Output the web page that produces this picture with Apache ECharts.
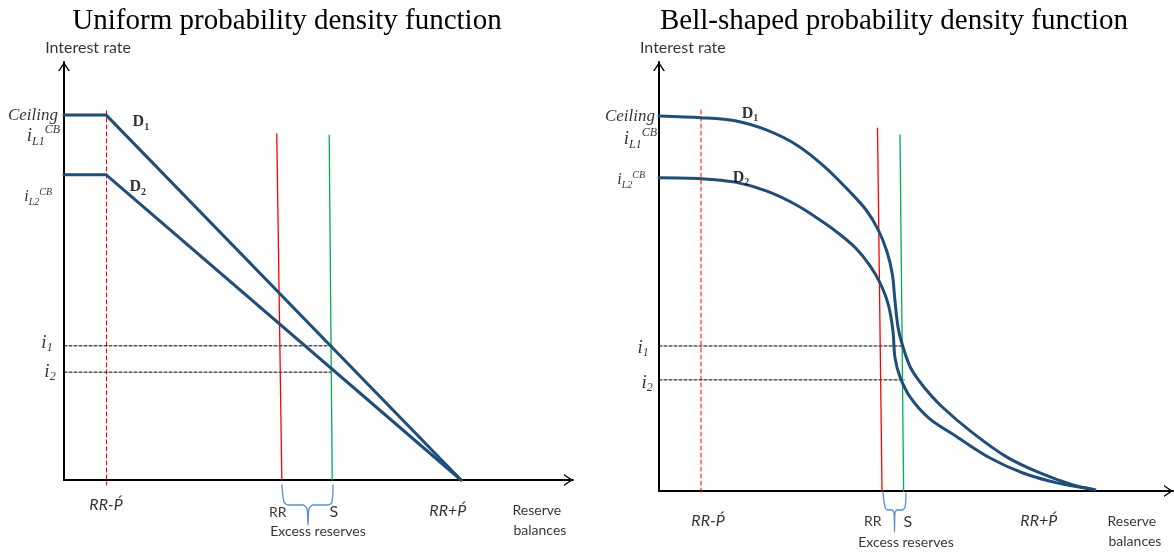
<!DOCTYPE html>
<html><head><meta charset="utf-8">
<script src="https://cdn.jsdelivr.net/npm/echarts@6/dist/echarts.min.js"></script>
<style>html,body{margin:0;padding:0;background:#fff}#c{width:1174px;height:554px}</style>
</head><body><div id="c"></div>
<script>
// ---------- DATA (axis units: reserve balances 0-100, interest rate 0-100) ----------
const titles = ['Uniform probability density function', 'Bell-shaped probability density function'];

// Uniform panel
const uniD1 = [[0, 87.3], [8.3, 87.3], [78, 0]];
const uniD2 = [[0, 73.0], [8.3, 73.0], [78, 0]];
const uniRR = [[41.8, 82.8], [42.8, 0]];
const uniS = [[52.1, 82.5], [52.7, 0]];
const uniFloorMark = [[8.35, 88.3], [8.35, -1.2]];
const uniI1 = [[0, 32.1], [52.8, 32.1]];
const uniI2 = [[0, 25.8], [52.5, 25.8]];
const uniBrace = [[42.83, -1.2], [43.22, -5.26], [44.01, -5.98], [46.95, -5.98], [47.74, -6.94], [47.94, -10.77],
  [48.13, -6.94], [48.92, -5.98], [51.87, -5.98], [52.65, -5.26], [52.85, -1.2]];

// Bell-shaped panel
const bellD1 = [[0, 87.4], [8.2, 87.0], [14.8, 86.3], [21.0, 84.1], [27.0, 80.5], [32.3, 75.5], [37.16, 69.7],
  [40.3, 65.5], [42.6, 61.0], [44.3, 56.0], [45.4, 50.5], [45.9, 44.5], [46.5, 38.2], [47.47, 33.6], [49.0, 28.6],
  [51.5, 24.3], [55.0, 19.7], [61.09, 13.5], [67.7, 7.9], [74.12, 4.2], [80.54, 1.4], [84.82, 0.3]];
const bellD2 = [[0, 73.0], [8.2, 72.8], [14.8, 72.0], [21.0, 69.9], [27.0, 66.5], [31.91, 62.7], [35.0, 60.0],
  [38.3, 56.6], [41.0, 52.6], [43.0, 48.5], [44.6, 43.5], [45.5, 37.5], [45.9, 31.2], [46.89, 26.6],
  [48.8, 22.0], [52.5, 17.0], [57.98, 12.6], [64.4, 7.7], [70.82, 4.2], [77.43, 1.9], [83.85, 0.5]];
const bellRR = [[42.51, 84.6], [43.39, 0]];
const bellS = [[46.89, 83.0], [47.59, 0]];
const bellFloorMark = [[8.17, 88.8], [8.17, -0.93]];
const bellI1 = [[0, 33.8], [47.5, 33.8]];
const bellI2 = [[0, 25.9], [47.7, 25.9]];
const bellBrace = [[43.58, -0.23], [43.97, -3.73], [44.55, -4.43], [45.33, -4.43], [45.72, -5.13], [45.82, -9.56],
  [45.91, -5.13], [46.3, -4.43], [47.28, -4.43], [47.86, -3.73], [48.05, -0.47]];

// Annotation labels: [text, x, y, style]
const uniLabels = [
  ['Interest rate', -3.7, 103.3, 'axisL'],
  ['Ceiling', -1.18, 87.3, 'ceiling'],
  ['{i|i}{sub|L1}{sup|CB}', -0.79, 82.3, 'iL1'],
  ['{i|i}{sub|L2}{sup|CB}', -2.36, 67.7, 'iL2'],
  ['{d|D}{ds|1}', 15.1, 85.6, 'd'],
  ['{d|D}{ds|2}', 14.5, 70.1, 'd'],
  ['{i|i}{sub|1}', -3.34, 32.8, 'ii'],
  ['{i|i}{sub|2}', -2.75, 25.8, 'ii'],
  ['RR-Ṕ', 8.25, -6.0, 'it'],
  ['RR', 42.0, -7.66, 'plain'],
  ['S', 53.0, -7.66, 'plainBig'],
  ['Excess reserves', 49.9, -12.4, 'plain'],
  ['RR+Ṕ', 75.4, -7.4, 'it'],
  ['Reserve', 92.9, -7.2, 'plain'],
  ['balances', 93.5, -12.0, 'plain']
];
const bellLabels = [
  ['Interest rate', -3.7, 103.3, 'axisL'],
  ['Ceiling', -0.78, 87.2, 'ceiling'],
  ['{i|i}{sub|L1}{sup|CB}', -0.39, 82.0, 'iL1'],
  ['{i|i}{sub|L2}{sup|CB}', -2.72, 72.5, 'iL2'],
  ['{d|D}{ds|1}', 17.7, 87.9, 'd'],
  ['{d|D}{ds|2}', 15.95, 73.0, 'd'],
  ['{i|i}{sub|1}', -3.11, 33.3, 'ii'],
  ['{i|i}{sub|2}', -2.33, 25.2, 'ii'],
  ['RR-Ṕ', 9.53, -7.0, 'it'],
  ['RR', 41.6, -7.2, 'plain'],
  ['S', 48.4, -7.2, 'plainBig'],
  ['Excess reserves', 48.05, -12.1, 'plain'],
  ['RR+Ṕ', 73.9, -7.0, 'it'],
  ['Reserve', 92.0, -7.0, 'plain'],
  ['balances', 92.6, -11.7, 'plain']
];

// ---------- STYLES ----------
const SERIF = 'Liberation Serif';
const SANS = 'Lato';
const blue = '#1F4E79';
const labelStyles = {
  axisL: {fontFamily: SANS, fontSize: 16, color: '#000', align: 'left'},
  ceiling: {fontFamily: SERIF, fontSize: 17, fontStyle: 'italic', color: '#000', align: 'right'},
  iL1: {align: 'right', rich: {
    i: {fontFamily: SERIF, fontSize: 19, fontStyle: 'italic', color: '#000', lineHeight: 24},
    sub: {fontFamily: SERIF, fontSize: 12, fontStyle: 'italic', color: '#000', lineHeight: 12, verticalAlign: 'bottom'},
    sup: {fontFamily: SERIF, fontSize: 12, fontStyle: 'italic', color: '#000', lineHeight: 12, verticalAlign: 'top'}}},
  iL2: {align: 'right', rich: {
    i: {fontFamily: SERIF, fontSize: 16, fontStyle: 'italic', color: '#000', lineHeight: 20},
    sub: {fontFamily: SERIF, fontSize: 10, fontStyle: 'italic', color: '#000', lineHeight: 10, verticalAlign: 'bottom'},
    sup: {fontFamily: SERIF, fontSize: 10, fontStyle: 'italic', color: '#000', lineHeight: 10, verticalAlign: 'top'}}},
  d: {align: 'center', rich: {
    d: {fontFamily: SERIF, fontSize: 16, fontWeight: 'bold', color: '#000', lineHeight: 20},
    ds: {fontFamily: SERIF, fontSize: 10, fontWeight: 'bold', color: '#000', lineHeight: 10, verticalAlign: 'bottom'}}},
  ii: {align: 'center', rich: {
    i: {fontFamily: SERIF, fontSize: 19, fontStyle: 'italic', color: '#000', lineHeight: 22},
    sub: {fontFamily: SERIF, fontSize: 12, fontStyle: 'italic', color: '#000', lineHeight: 10, verticalAlign: 'bottom'}}},
  it: {fontFamily: SANS, fontSize: 16, fontStyle: 'italic', color: '#000', align: 'center'},
  plain: {fontFamily: SANS, fontSize: 14, color: '#000', align: 'center'},
  plainBig: {fontFamily: SANS, fontSize: 16, color: '#000', align: 'center'}
};

const chevron = 'path://M0,9 L6,0 L12,9 L10.4,9 L6,2.4 L1.6,9 Z';

function axes(idx) {
  const common = {
    type: 'value', min: 0, max: 100, gridIndex: idx,
    axisLabel: {show: false}, axisTick: {show: false}, splitLine: {show: false},
    axisLine: {show: true, onZero: true, lineStyle: {color: '#000', width: 2},
      symbol: ['none', chevron], symbolSize: [13, 9], symbolOffset: [0, -4.5]}
  };
  return [Object.assign({}, common), Object.assign({}, common)];
}

function lineSeries(idx, data, color, width, type, smooth, z) {
  return {
    type: 'line', xAxisIndex: idx, yAxisIndex: idx, data: data, showSymbol: false, symbol: 'none',
    smooth: smooth || false, clip: false, silent: true, z: z || 2,
    lineStyle: {color: color, width: width, type: type || 'solid', cap: 'round', join: 'round'}
  };
}

function labelSeries(idx, labels) {
  return {
    type: 'scatter', xAxisIndex: idx, yAxisIndex: idx, symbolSize: 0, clip: false, silent: true, z: 5,
    data: labels.map(l => ({
      value: [l[1], l[2]],
      label: Object.assign({show: true, position: 'inside', verticalAlign: 'middle', formatter: l[0]}, labelStyles[l[3]])
    }))
  };
}

const xa = axes(0), xb = axes(1);
const option = {
  animation: false,
  backgroundColor: '#fff',
  title: [
    {text: titles[0], left: 282, top: 2, textAlign: 'center',
      textStyle: {fontFamily: SERIF, fontSize: 29, fontWeight: 'normal', color: '#000'}},
    {text: titles[1], left: 889, top: 2, textAlign: 'center',
      textStyle: {fontFamily: SERIF, fontSize: 29, fontWeight: 'normal', color: '#000'}}
  ],
  grid: [
    {left: 64, top: 62, width: 509, height: 418},
    {left: 659, top: 62, width: 514, height: 429}
  ],
  xAxis: [xa[0], xb[0]],
  yAxis: [xa[1], xb[1]],
  series: [
    lineSeries(0, uniFloorMark, '#FF0000', 1, [4, 3]),
    lineSeries(0, uniI1, '#000', 1, [3, 2]),
    lineSeries(0, uniI2, '#000', 1, [3, 2]),
    lineSeries(0, uniRR, '#FF0000', 1.3),
    lineSeries(0, uniS, '#00B050', 1.3),
    lineSeries(0, uniBrace, '#5B8FD0', 1.3, 'solid', 0.3),
    lineSeries(0, uniD1, blue, 3, 'solid', false, 3),
    lineSeries(0, uniD2, blue, 3, 'solid', false, 3),
    labelSeries(0, uniLabels),

    lineSeries(1, bellFloorMark, '#FF0000', 1, [4, 3]),
    lineSeries(1, bellI1, '#000', 1, [3, 2]),
    lineSeries(1, bellI2, '#000', 1, [3, 2]),
    lineSeries(1, bellRR, '#FF0000', 1.3),
    lineSeries(1, bellS, '#00B050', 1.3),
    lineSeries(1, bellBrace, '#5B8FD0', 1.3, 'solid', 0.3),
    lineSeries(1, bellD1, blue, 3, 'solid', 0.3, 3),
    lineSeries(1, bellD2, blue, 3, 'solid', 0.3, 3),
    labelSeries(1, bellLabels)
  ]
};
const chart = echarts.init(document.getElementById('c'), null, {renderer: 'canvas'});
chart.setOption(option);
</script>
</body></html>
